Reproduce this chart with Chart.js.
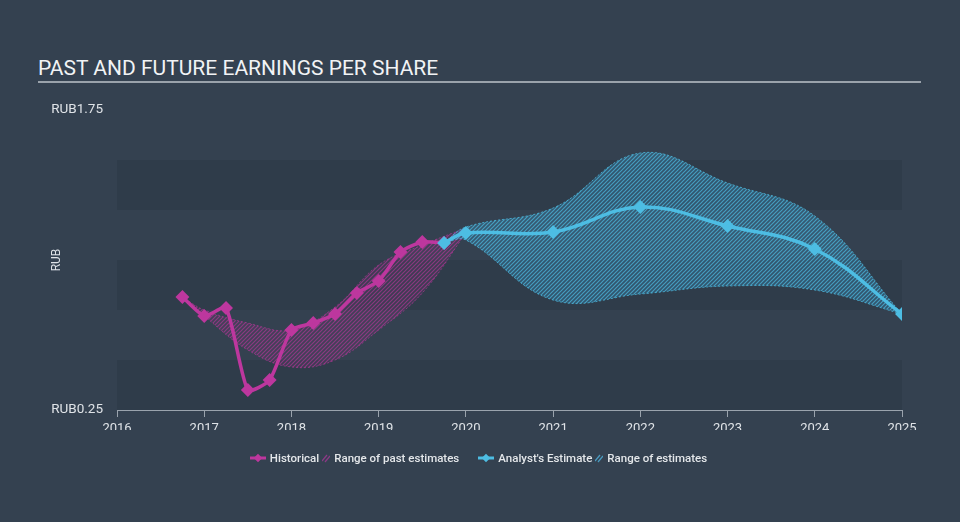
<!DOCTYPE html>
<html>
<head>
<meta charset="utf-8">
<script src="https://cdn.jsdelivr.net/npm/chart.js@4.4.0/dist/chart.umd.min.js"></script>
<style>
  body { margin: 0; background: #333f4e; font-family: Roboto, "Open Sans", sans-serif; }
  .wrap { position: relative; width: 960px; height: 522px; background: #344150; overflow: hidden; }
  .title { position: absolute; left: 38px; top: 56px; margin: 0; font-size: 21px; font-weight: 400; color: #f1f3f5; letter-spacing: 0; }
  .rule { position: absolute; left: 38px; top: 81px; width: 883px; height: 2px; background: #9aa2ab; }
  canvas { position: absolute; left: 0; top: 0; }
  .legend { position: absolute; top: 451px; left: 0; width: 960px; display: flex; justify-content: center; font-size: 11.5px; color: #e4e7ea; font-weight: 500; }
  .legend span { display: inline-flex; align-items: center; }
  .item { margin-right: 3px; }
  .gap { width: 16px; }
  .icon { display: inline-block; margin-right: 4px; }
</style>
</head>
<body>
<div class="wrap">
  <h1 class="title">PAST AND FUTURE EARNINGS PER SHARE</h1>
  <div class="rule"></div>
  <canvas id="epsChart" width="960" height="522"></canvas>
  <div class="legend">
    <span class="item"><svg class="icon" width="16" height="10"><line x1="0" y1="5" x2="16" y2="5" stroke="#bd379e" stroke-width="3"/><rect x="4" y="1" width="6" height="6" fill="#bd379e" transform="rotate(45 8 5) translate(1 1)"/></svg>Historical</span>
    <span class="item"><svg class="icon" width="8" height="10"><line x1="0" y1="8" x2="5" y2="2" stroke="#8b3a86" stroke-width="1.3"/><line x1="3" y1="9" x2="8" y2="3" stroke="#8b3a86" stroke-width="1.3"/></svg>Range of past estimates</span>
    <span class="gap"></span>
    <span class="item"><svg class="icon" width="16" height="10"><line x1="0" y1="5" x2="16" y2="5" stroke="#4dbde3" stroke-width="3"/><rect x="4" y="1" width="6" height="6" fill="#4dbde3" transform="rotate(45 8 5) translate(1 1)"/></svg>Analyst's Estimate</span>
    <span class="item"><svg class="icon" width="8" height="10"><line x1="0" y1="8" x2="5" y2="2" stroke="#4a9bc0" stroke-width="1.3"/><line x1="3" y1="9" x2="8" y2="3" stroke="#4a9bc0" stroke-width="1.3"/></svg>Range of estimates</span>
  </div>
</div>
<script>
// quarterly reported EPS (RUB), x in decimal years
const histX = [2016.75, 2017, 2017.25, 2017.5, 2017.75, 2018, 2018.25, 2018.5, 2018.75, 2019, 2019.25, 2019.5, 2019.75];
const histEPS = [0.815, 0.72, 0.76, 0.35, 0.40, 0.65, 0.685, 0.73, 0.835, 0.895, 1.04, 1.09, 1.085];

// range of past estimates
const pastX = [2016.75, 2017, 2017.5, 2018, 2018.5, 2019, 2019.5, 2020];
const pastHigh = [0.815, 0.75, 0.685, 0.65, 0.765, 0.975, 1.075, 1.16];
const pastLow = [0.815, 0.72, 0.55, 0.465, 0.5, 0.65, 0.835, 1.135];

// analyst forecasts
const estX = [2019.75, 2020, 2021, 2022, 2023, 2024, 2025];
const estEPS = [1.085, 1.135, 1.14, 1.265, 1.17, 1.055, 0.73];
const estHigh = [1.085, 1.165, 1.26, 1.535, 1.385, 1.22, 0.73];
const estLow = [1.085, 1.10, 0.80, 0.83, 0.87, 0.85, 0.73];

const yearTicks = [2016, 2017, 2018, 2019, 2020, 2021, 2022, 2023, 2024, 2025];
const yTicks = [0.25, 1.75];
const bands = [[0.25, 0.5], [0.75, 1.0], [1.25, 1.5]];

const pink = "#bd379e";
const cyan = "#4dbde3";
const axisGrey = "#9aa3ad";

function pts(xs, ys) {
  return xs.map((x, i) => ({ x: x, y: ys[i] }));
}

function hatch(line, base) {
  const c = document.createElement("canvas");
  c.width = 4;
  c.height = 4;
  const g = c.getContext("2d");
  g.fillStyle = base;
  g.fillRect(0, 0, 4, 4);
  g.strokeStyle = line;
  g.lineWidth = 1.2;
  g.beginPath();
  g.moveTo(0, 4); g.lineTo(4, 0);
  g.moveTo(-1, 1); g.lineTo(1, -1);
  g.moveTo(3, 5); g.lineTo(5, 3);
  g.stroke();
  return g.createPattern(c, "repeat");
}

const bandPlugin = {
  id: "bands",
  beforeDatasetsDraw(chart) {
    const { ctx, chartArea, scales } = chart;
    ctx.save();
    ctx.fillStyle = "rgba(30, 40, 52, 0.18)";
    bands.forEach(([a, b]) => {
      const y1 = scales.y.getPixelForValue(b);
      const y2 = scales.y.getPixelForValue(a);
      ctx.fillRect(chartArea.left, y1, chartArea.right - chartArea.left, y2 - y1);
    });
    ctx.restore();
  }
};

const ctx = document.getElementById("epsChart");

new Chart(ctx, {
  type: "line",
  data: {
    datasets: [
      {
        label: "Historical",
        data: pts(histX, histEPS),
        borderColor: pink,
        backgroundColor: pink,
        borderWidth: 3.5,
        pointStyle: "rectRot",
        pointRadius: 4.5,
        tension: 0.2,
        fill: false,
        order: 1
      },
      {
        label: "Analyst's Estimate",
        data: pts(estX, estEPS),
        borderColor: cyan,
        backgroundColor: cyan,
        borderWidth: 3.5,
        pointStyle: "rectRot",
        pointRadius: 4.5,
        tension: 0.4,
        fill: false,
        order: 0
      },
      {
        label: "past high",
        data: pts(pastX, pastHigh),
        borderColor: "rgba(189, 55, 158, 0.6)",
        borderWidth: 1,
        borderDash: [2, 2],
        pointRadius: 0,
        tension: 0.4,
        fill: "+1",
        backgroundColor: hatch("rgba(189, 55, 158, 0.6)", "rgba(189, 55, 158, 0.1)"),
        order: 3
      },
      {
        label: "past low",
        data: pts(pastX, pastLow),
        borderColor: "rgba(189, 55, 158, 0.6)",
        borderWidth: 1,
        borderDash: [2, 2],
        pointRadius: 0,
        tension: 0.4,
        fill: false,
        order: 3
      },
      {
        label: "est high",
        data: pts(estX, estHigh),
        borderColor: "rgba(77, 189, 227, 0.75)",
        borderWidth: 1,
        borderDash: [2, 2],
        pointRadius: 0,
        tension: 0.4,
        fill: "+1",
        backgroundColor: hatch("rgba(77, 189, 227, 0.7)", "rgba(60, 150, 200, 0.28)"),
        order: 2
      },
      {
        label: "est low",
        data: pts(estX, estLow),
        borderColor: "rgba(77, 189, 227, 0.75)",
        borderWidth: 1,
        borderDash: [2, 2],
        pointRadius: 0,
        tension: 0.4,
        fill: false,
        order: 2
      }
    ]
  },
  options: {
    responsive: false,
    animation: false,
    layout: { padding: { left: 38, right: 58, top: 110, bottom: 92 } },
    plugins: {
      legend: { display: false },
      tooltip: { enabled: false }
    },
    scales: {
      x: {
        type: "linear",
        min: 2016,
        max: 2025,
        afterFit: (scale) => { scale.height = 20; },
        afterBuildTicks: (scale) => { scale.ticks = yearTicks.map((v) => ({ value: v })); },
        ticks: {
          color: "#dfe3e7",
          font: { family: "Roboto", size: 13 },
          padding: 4,
          maxRotation: 0,
          callback: (v) => String(v)
        },
        grid: { display: true, drawOnChartArea: false, drawTicks: true, tickLength: 7, color: axisGrey },
        border: { display: true, color: axisGrey, width: 1 }
      },
      y: {
        min: 0.25,
        max: 1.75,
        afterFit: (scale) => { scale.width = 79; },
        afterBuildTicks: (scale) => { scale.ticks = yTicks.map((v) => ({ value: v })); },
        ticks: {
          color: "#dfe3e7",
          font: { family: "Roboto", size: 13.5 },
          padding: 6,
          callback: (v) => "RUB" + Number(v).toFixed(2)
        },
        title: {
          display: true,
          text: "RUB",
          color: "#dfe3e7",
          font: { family: "Roboto", size: 12 },
          padding: { top: 12, bottom: 0 }
        },
        grid: { display: false },
        border: { display: false }
      }
    }
  },
  plugins: [bandPlugin]
});
</script>
</body>
</html>
